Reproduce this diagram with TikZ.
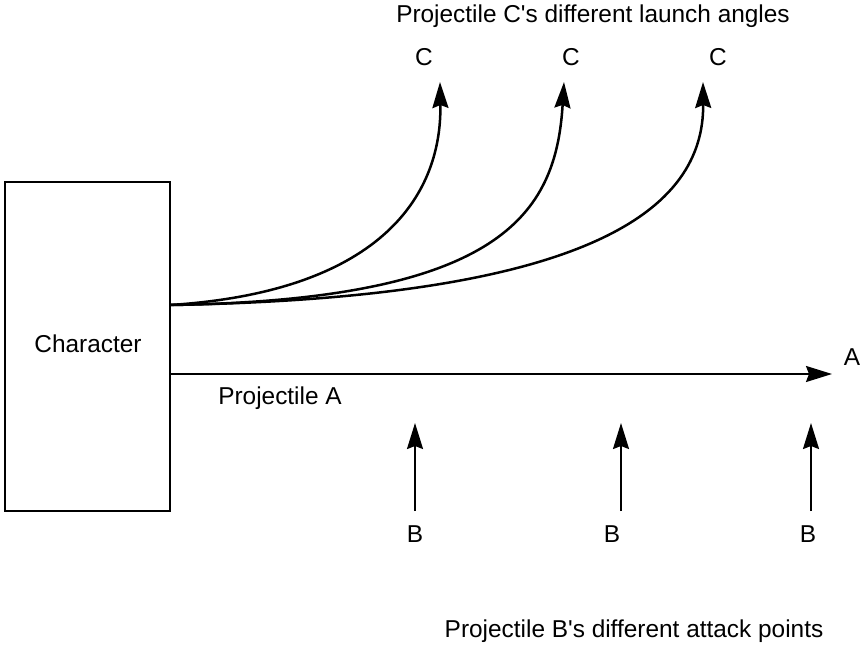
\documentclass[tikz,border=0pt]{standalone}
\usepackage{fontspec}
\setmainfont{Liberation Sans}
\usetikzlibrary{arrows.meta}
\begin{document}
\begin{tikzpicture}[x=1pt,y=-1pt,
  every node/.style={font=\fontsize{24.4}{28}\selectfont, inner sep=0pt},
  conn/.style={line width=2pt, -{Stealth[length=26pt,width=16pt,inset=3pt]}},
  curved/.style={conn, line width=2.5pt},
  boxstyle/.style={draw, line width=2pt, minimum width=165pt, minimum height=329pt}]
\useasboundingbox (0,0) rectangle (861,647);

% character box
\node[boxstyle] (char) at (87.5,346.5) {};
\node (chartext) at (88,344) {Character};

% launch point and projectile paths
\coordinate (launch) at (170,305);
\coordinate (c1) at (440,82);
\coordinate (c2) at (564,82);
\coordinate (c3) at (703,82);
\draw[curved] (launch) .. controls (375,292) and (442,200) .. (c1);
\draw[curved] (launch) .. controls (500,300) and (556,215) .. (c2);
\draw[curved] (launch) .. controls (590,298) and (704,210) .. (c3);

\node (title) at (593,16) {Projectile C\textquotesingle s different launch angles};
\node (lc1) at (424,57) {C};
\node (lc2) at (571,57) {C};
\node (lc3) at (718,57) {C};

% straight projectile A
\coordinate (astart) at (170,374);
\coordinate (aend) at (832,374);
\draw[conn] (astart) -- (aend);
\node (la) at (852,357) {A};
\node (pa) at (280,398) {Projectile A};

% projectile B attack points
\coordinate (b1s) at (415,511);
\coordinate (b1e) at (415,423);
\coordinate (b2s) at (621,511);
\coordinate (b2e) at (621,423);
\coordinate (b3s) at (811,511);
\coordinate (b3e) at (811,423);
\draw[conn] (b1s) -- (b1e);
\draw[conn] (b2s) -- (b2e);
\draw[conn] (b3s) -- (b3e);
\node (lb1) at (415,534) {B};
\node (lb2) at (612,534) {B};
\node (lb3) at (808,534) {B};
\node (pb) at (634,631) {Projectile B\textquotesingle s different attack points};
\end{tikzpicture}
\end{document}
